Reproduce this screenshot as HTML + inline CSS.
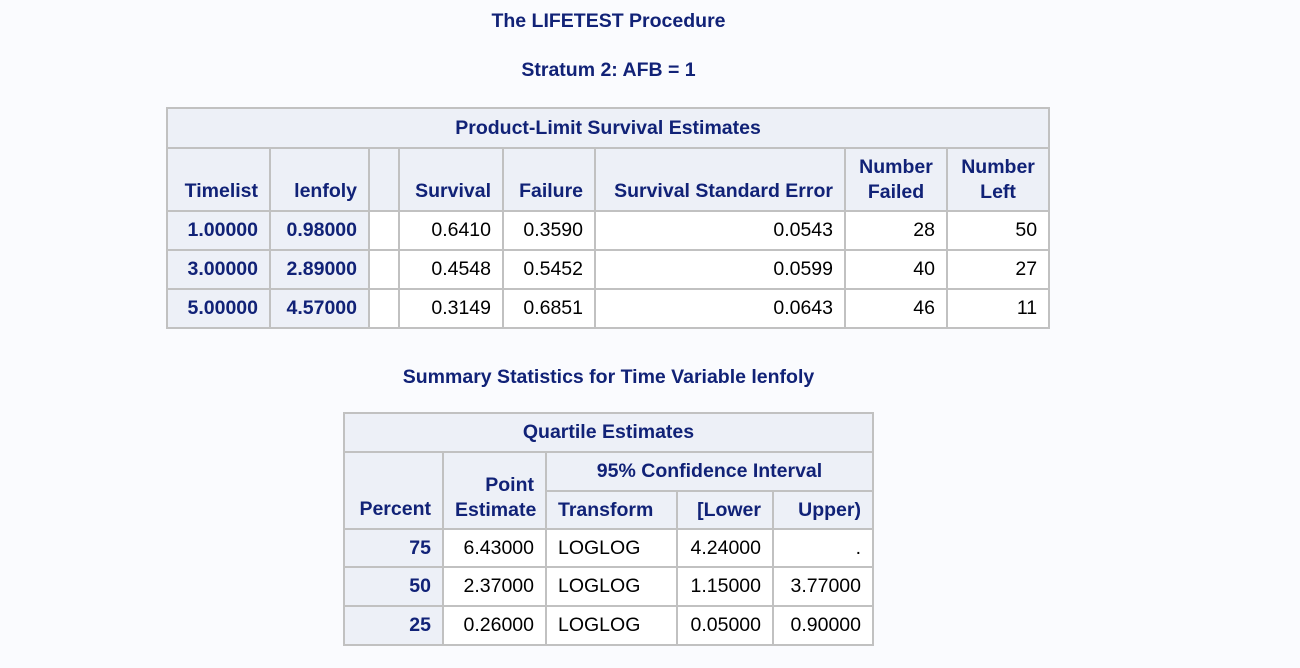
<!DOCTYPE html>
<html><head><meta charset="utf-8"><style>
body{margin:0;width:1300px;height:668px;background:#fafbfe;font-family:"Liberation Sans",Arial,sans-serif;position:relative;overflow:hidden}
.t{position:absolute;left:0;width:1217px;text-align:center;font-weight:bold;font-size:19.5px;color:#112277}
table{position:absolute;border-collapse:collapse;table-layout:fixed;font-size:19.5px}
td,th{border:2px solid #c1c1c1;padding:0 11px;white-space:nowrap;overflow:hidden}
th{background:#edf0f7;color:#112277;font-weight:bold;text-align:right}
td{background:#fff;color:#000;text-align:right}
th.c{text-align:center}
td.l{text-align:left}
</style></head><body>
<div class="t" style="top:10px">The LIFETEST Procedure</div>
<div class="t" style="top:59px">Stratum 2: AFB = 1</div>
<table style="left:166px;top:107px;width:882px">
<colgroup><col style="width:103px"><col style="width:99px"><col style="width:30px"><col style="width:104px"><col style="width:92px"><col style="width:250px"><col style="width:102px"><col style="width:102px"></colgroup>
<tr style="height:40px"><th class="c" colspan="8">Product-Limit Survival Estimates</th></tr>
<tr style="height:63px"><th style="vertical-align:bottom;padding-bottom:7px">Timelist</th><th style="vertical-align:bottom;padding-bottom:7px">lenfoly</th><th></th><th style="vertical-align:bottom;padding-bottom:7px">Survival</th><th style="vertical-align:bottom;padding-bottom:7px">Failure</th><th style="vertical-align:bottom;padding-bottom:7px">Survival Standard Error</th><th class="c" style="line-height:25px">Number<br>Failed</th><th class="c" style="line-height:25px">Number<br>Left</th></tr>
<tr style="height:39px"><th>1.00000</th><th>0.98000</th><td></td><td>0.6410</td><td>0.3590</td><td>0.0543</td><td>28</td><td>50</td></tr>
<tr style="height:39px"><th>3.00000</th><th>2.89000</th><td></td><td>0.4548</td><td>0.5452</td><td>0.0599</td><td>40</td><td>27</td></tr>
<tr style="height:39px"><th>5.00000</th><th>4.57000</th><td></td><td>0.3149</td><td>0.6851</td><td>0.0643</td><td>46</td><td>11</td></tr>
</table>
<div class="t" style="top:366px">Summary Statistics for Time Variable lenfoly</div>
<table style="left:343px;top:412px;width:529px">
<colgroup><col style="width:99px"><col style="width:103px"><col style="width:131px"><col style="width:96px"><col style="width:100px"></colgroup>
<tr style="height:39px"><th class="c" colspan="5">Quartile Estimates</th></tr>
<tr style="height:39px"><th rowspan="2" style="vertical-align:bottom;padding-bottom:7px">Percent</th><th rowspan="2" style="vertical-align:bottom;padding-bottom:5px;line-height:25px">Point<br>Estimate</th><th class="c" colspan="3">95% Confidence Interval</th></tr>
<tr style="height:38px"><th style="text-align:left">Transform</th><th>[Lower</th><th>Upper)</th></tr>
<tr style="height:38px"><th>75</th><td>6.43000</td><td class="l">LOGLOG</td><td>4.24000</td><td>.</td></tr>
<tr style="height:39px"><th>50</th><td>2.37000</td><td class="l">LOGLOG</td><td>1.15000</td><td>3.77000</td></tr>
<tr style="height:39px"><th>25</th><td>0.26000</td><td class="l">LOGLOG</td><td>0.05000</td><td>0.90000</td></tr>
</table>
</body></html>
